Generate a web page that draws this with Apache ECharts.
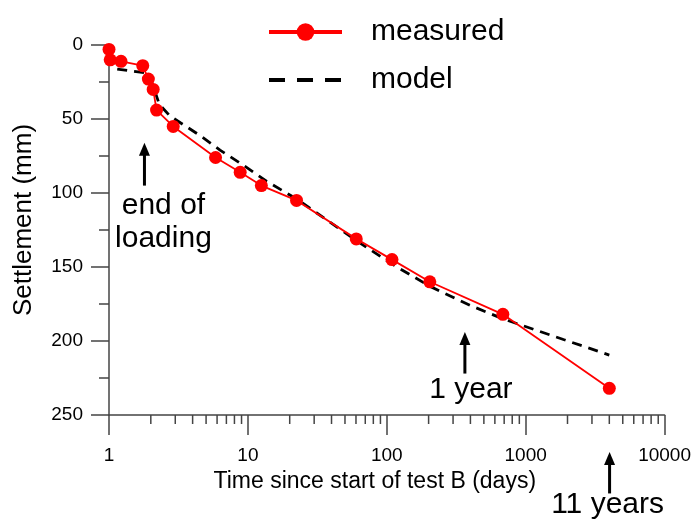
<!DOCTYPE html>
<html>
<head>
<meta charset="utf-8">
<script src="https://cdn.jsdelivr.net/npm/echarts@6/dist/echarts.min.js"></script>
<style>
  html, body { margin: 0; padding: 0; background: #ffffff; }
  #chart { width: 694px; height: 525px; }
</style>
</head>
<body>
<div id="chart"></div>
<script>
// Settlement readings (mm) against time since start of test B (days)
const measuredDays = [1.0, 1.02, 1.22, 1.75, 1.92, 2.08, 2.2, 2.9, 5.85, 8.8, 12.5, 22.4, 60.3, 109, 204, 685, 4000];
const measuredMm   = [3, 10, 11, 14, 23, 30, 44, 55, 76, 86, 95, 105, 131, 145, 160, 182, 232];

// Model prediction
const modelDays = [1.0, 1.1, 1.9, 2.05, 2.3, 2.75, 4.5, 6.3, 9.2, 13.6, 22.4, 60, 109, 204, 400, 685, 1870, 4000];
const modelMm   = [7, 16, 19, 26, 40, 48, 61, 71, 81, 92, 104, 132, 148, 163, 176, 185, 199, 209.5];

// Axis ticks
const xTickLabels = ['1', '10', '100', '1000', '10000'];
const yTickStep = 50;

// Annotation arrows: x position (days), arrow tip and tail (mm)
const noteLabels  = ['end of\nloading', '1 year', '11 years'];
const noteDays    = [1.8, 365, 4018];
const noteTipMm   = [66, 194, 275];
const noteTailMm  = [95, 222, 303];

const FONT = '"Liberation Sans", Arial, Helvetica, sans-serif';
const AXIS_COLOR = '#444444';

// Minor tick positions of the logarithmic time axis (2..9 in each decade)
const minorTickDays = [];
for (let e = 0; e < 4; e++) {
  for (let k = 2; k <= 9; k++) minorTickDays.push(k * Math.pow(10, e));
}

const zip = (xs, ys) => xs.map((x, i) => [x, ys[i]]);

const chart = echarts.init(document.getElementById('chart'), null, { renderer: 'canvas' });

const option = {
  animation: false,
  backgroundColor: '#ffffff',
  grid: { left: 109, right: 29, top: 45, bottom: 110, containLabel: false },
  legend: {
    orient: 'vertical',
    left: 267,
    top: 17,
    padding: 0,
    itemWidth: 73,
    itemHeight: 22,
    itemGap: 18,
    selectedMode: false,
    textStyle: { fontSize: 30, color: '#000', fontFamily: FONT, padding: [0, 0, 0, 24] },
    data: [
      { name: 'measured', lineStyle: { width: 4 } },
      { name: 'model', lineStyle: { width: 4, type: [16, 12] }, itemStyle: { opacity: 0 } }
    ]
  },
  xAxis: {
    type: 'log',
    logBase: 10,
    min: 1,
    max: 10000,
    name: 'Time since start of test B (days)',
    nameLocation: 'middle',
    nameGap: 52,
    nameTextStyle: { fontSize: 23, color: '#000', fontFamily: FONT, padding: [0, 24, 0, 0] },
    axisLine: { show: true, onZero: false, lineStyle: { color: AXIS_COLOR, width: 1.5 } },
    axisTick: { show: true, length: 20, lineStyle: { color: AXIS_COLOR, width: 1.5 } },
    minorTick: { show: false },
    axisLabel: {
      fontSize: 19, color: '#000', fontFamily: FONT, margin: 31,
      showMinLabel: true, showMaxLabel: true,
      formatter: v => xTickLabels[Math.round(Math.log10(v))]
    },
    splitLine: { show: false }
  },
  yAxis: {
    type: 'value',
    inverse: true,
    min: 0,
    max: 250,
    interval: yTickStep,
    name: 'Settlement (mm)',
    nameLocation: 'middle',
    nameGap: 72,
    nameTextStyle: { fontSize: 26, color: '#000', fontFamily: FONT, padding: [0, 0, 0, 20] },
    axisLine: { show: true, onZero: false, lineStyle: { color: AXIS_COLOR, width: 1.5 } },
    axisTick: { show: true, length: 18, lineStyle: { color: AXIS_COLOR, width: 1.5 } },
    minorTick: { show: true, splitNumber: 2, length: 10, lineStyle: { color: AXIS_COLOR, width: 1.5 } },
    axisLabel: { fontSize: 19, color: '#000', fontFamily: FONT, margin: 26 },
    splitLine: { show: false }
  },
  series: [
    {
      name: 'model',
      type: 'line',
      data: zip(modelDays, modelMm),
      symbol: 'none',
      showSymbol: false,
      clip: false,
      z: 2,
      itemStyle: { color: '#000' },
      lineStyle: { color: '#000', width: 2.8, type: [10, 7] }
    },
    {
      name: 'measured',
      type: 'line',
      data: zip(measuredDays, measuredMm),
      symbol: 'circle',
      symbolSize: 13,
      clip: false,
      z: 3,
      itemStyle: { color: '#ff0000' },
      lineStyle: { color: '#ff0000', width: 1.8 }
    },
    {
      // minor ticks of the log time axis, placed through the axis scale
      name: 'minor ticks',
      type: 'custom',
      silent: true,
      clip: false,
      data: minorTickDays.map(d => [d, 250]),
      renderItem: (params, api) => {
        const p = api.coord([api.value(0), api.value(1)]);
        return {
          type: 'line',
          shape: { x1: p[0], y1: p[1], x2: p[0], y2: p[1] + 9 },
          style: { stroke: AXIS_COLOR, lineWidth: 1.5 }
        };
      }
    }
  ]
};

chart.setOption(option);

// Annotation arrows and their captions, positioned from data coordinates
const px = (d, mm) => chart.convertToPixel({ gridIndex: 0 }, [d, mm]);
const graphics = [];
const textOffsets = [[19, 4], [6, 0], [-2, -5]];
noteLabels.forEach((label, i) => {
  const tip = px(noteDays[i], noteTipMm[i]);
  const tail = px(noteDays[i], noteTailMm[i]);
  const x = tip[0];
  graphics.push({
    type: 'line',
    shape: { x1: x, y1: tip[1] + 8, x2: x, y2: tail[1] },
    style: { stroke: '#000', lineWidth: 3 },
    silent: true
  });
  graphics.push({
    type: 'polygon',
    shape: { points: [[x, tip[1]], [x - 5.5, tip[1] + 13], [x + 5.5, tip[1] + 13]] },
    style: { fill: '#000' },
    silent: true
  });
  graphics.push({
    type: 'text',
    x: x + textOffsets[i][0],
    y: tail[1] + textOffsets[i][1],
    silent: true,
    style: {
      text: label,
      fontSize: 30,
      fontFamily: FONT,
      fill: '#000',
      align: 'center',
      verticalAlign: 'top',
      lineHeight: 33
    }
  });
});
chart.setOption({ graphic: graphics });
</script>
</body>
</html>
